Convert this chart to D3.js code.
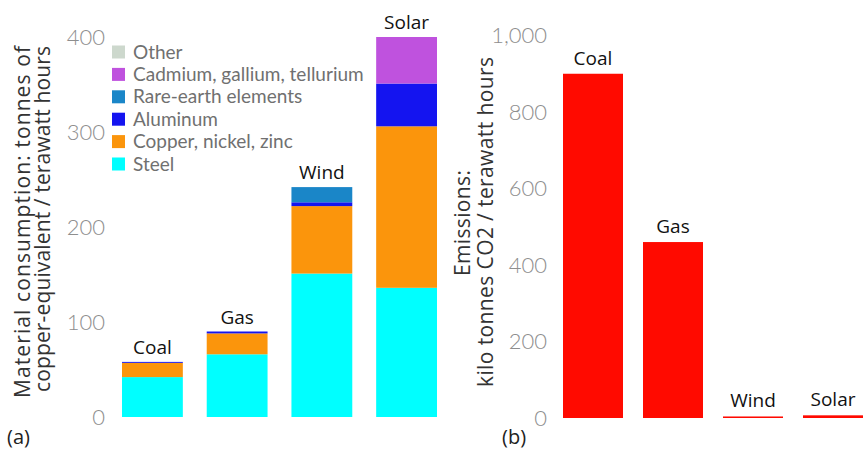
<!DOCTYPE html>
<html>
<head>
<meta charset="utf-8">
<script src="https://cdn.jsdelivr.net/npm/d3@7"></script>
<style>
  body { margin: 0; background: #fff; }
  svg { display: block; }
  .tick-label { font-family: Lato, sans-serif; font-weight: 300; font-size: 22px; fill: #8e8e8e; }
  .axis-title { font-family: "Open Sans", sans-serif; font-size: 21px; fill: #333; }
  .bar-label { font-family: "Open Sans", sans-serif; font-size: 19px; fill: #111; }
  .legend-text { font-family: Lato, sans-serif; font-size: 19px; fill: #707070; }
  .panel-label { font-family: "Open Sans", sans-serif; font-size: 20px; fill: #222; }
</style>
</head>
<body>
<div id="chart"></div>
<script>
// categories shared by both panels
var categories = ["Coal", "Gas", "Wind", "Solar"];

// (a) material consumption, tonnes copper-eq / TWh, per material
var steel     = [42, 66, 151, 136];
var copper    = [15, 22, 71, 170];
var aluminum  = [1, 2, 4, 45];
var rareEarth = [0, 0, 16, 0];
var cadmium   = [0, 0, 0, 49];
var other     = [0, 0, 0, 0];

var materialNames = ["Steel", "Copper, nickel, zinc", "Aluminum", "Rare-earth elements", "Cadmium, gallium, tellurium", "Other"];
var materialColors = ["#00ffff", "#fb950c", "#1414f0", "#1a86c8", "#bf52de", "#cdd8cd"];
var materialTicks = [0, 100, 200, 300, 400];

// (b) emissions, kilo tonnes CO2 / TWh
var emissions = [900, 460, 4, 7];
var emissionTicks = [0, 200, 400, 600, 800, 1000];

var width = 863, height = 454;

var svg = d3.select("#chart").append("svg")
	.attr("width", width)
	.attr("height", height);

// ---------- panel (a) ----------
var xA = d3.scaleBand().domain(categories).range([122, 437]).paddingInner(0.282);
var yA = d3.scaleLinear().domain([0, 400]).range([417, 37]);

var series = [steel, copper, aluminum, rareEarth, cadmium, other];
var rows = categories.map(function(c, i) {
	var r = { cat: c };
	materialNames.forEach(function(m, j) { r[m] = series[j][i]; });
	return r;
});
var stacked = d3.stack().keys(materialNames)(rows);

var gA = svg.append("g");

gA.selectAll(".layer")
	.data(stacked)
	.enter().append("g")
	.attr("fill", function(d, i) { return materialColors[i]; })
	.selectAll("rect")
	.data(function(d) { return d; })
	.enter().append("rect")
	.attr("x", function(d) { return xA(d.data.cat); })
	.attr("width", xA.bandwidth())
	.attr("y", function(d) { return yA(d[1]); })
	.attr("height", function(d) { return yA(d[0]) - yA(d[1]); });

// labels on top of each stack
gA.selectAll(".bar-label")
	.data(rows)
	.enter().append("text")
	.attr("class", "bar-label")
	.attr("text-anchor", "middle")
	.attr("x", function(d) { return xA(d.cat) + xA.bandwidth() / 2; })
	.attr("y", function(d) {
		var total = d3.sum(materialNames, function(m) { return d[m]; });
		return yA(total) - 8;
	})
	.text(function(d) { return d.cat; });

// y axis (labels only)
var axisA = d3.axisLeft(yA).tickValues(materialTicks).tickSize(0).tickPadding(0);
gA.append("g")
	.attr("transform", "translate(105,0)")
	.call(axisA)
	.call(function(g) {
		g.select(".domain").remove();
		g.selectAll("text").attr("class", "tick-label").attr("fill", null).attr("font-size", null).attr("font-family", null);
	});

gA.append("text")
	.attr("class", "axis-title")
	.attr("text-anchor", "middle")
	.attr("textLength", 352)
	.attr("transform", "translate(30,222) rotate(-90)")
	.text("Material consumption:  tonnes of");
gA.append("text")
	.attr("class", "axis-title")
	.attr("text-anchor", "middle")
	.attr("textLength", 346)
	.attr("transform", "translate(50,219) rotate(-90)")
	.text("copper-equivalent / terawatt hours");

// legend (top row = last layer)
var legendItems = materialNames.slice().reverse();
var legendCols = materialColors.slice().reverse();
var legend = gA.append("g").attr("transform", "translate(112,52)");
legend.selectAll("rect")
	.data(legendItems)
	.enter().append("rect")
	.attr("x", 0)
	.attr("y", function(d, i) { return i * 22.4 - 6.5; })
	.attr("width", 13)
	.attr("height", 13)
	.attr("fill", function(d, i) { return legendCols[i]; });
legend.selectAll("text")
	.data(legendItems)
	.enter().append("text")
	.attr("class", "legend-text")
	.attr("x", 21)
	.attr("y", function(d, i) { return i * 22.4; })
	.attr("dy", "0.35em")
	.text(function(d) { return d; });

gA.append("text").attr("class", "panel-label").attr("x", 7).attr("y", 444).text("(a)");

// ---------- panel (b) ----------
var xB = d3.scaleBand().domain(categories).range([563, 863]).paddingInner(0.25);
var yB = d3.scaleLinear().domain([0, 1000]).range([418, 35.5]);

var gB = svg.append("g");

gB.selectAll("rect")
	.data(emissions)
	.enter().append("rect")
	.attr("fill", "#ff0a00")
	.attr("x", function(d, i) { return xB(categories[i]); })
	.attr("width", xB.bandwidth())
	.attr("y", function(d) { return yB(d); })
	.attr("height", function(d) { return yB(0) - yB(d); });

gB.selectAll(".bar-label")
	.data(emissions)
	.enter().append("text")
	.attr("class", "bar-label")
	.attr("text-anchor", "middle")
	.attr("x", function(d, i) { return xB(categories[i]) + xB.bandwidth() / 2; })
	.attr("y", function(d) { return yB(d) - 9; })
	.text(function(d, i) { return categories[i]; });

var axisB = d3.axisLeft(yB).tickValues(emissionTicks).tickSize(0).tickPadding(0).tickFormat(d3.format(","));
gB.append("g")
	.attr("transform", "translate(547,0)")
	.call(axisB)
	.call(function(g) {
		g.select(".domain").remove();
		g.selectAll("text").attr("class", "tick-label").attr("fill", null).attr("font-size", null).attr("font-family", null);
	});

gB.append("text")
	.attr("class", "axis-title")
	.attr("text-anchor", "middle")
	.attr("textLength", 106)
	.attr("transform", "translate(470,223) rotate(-90)")
	.text("Emissions:");
gB.append("text")
	.attr("class", "axis-title")
	.attr("text-anchor", "middle")
	.attr("textLength", 330)
	.attr("transform", "translate(493,222) rotate(-90)")
	.text("kilo tonnes CO2 / terawatt hours");

gB.append("text").attr("class", "panel-label").attr("x", 502).attr("y", 444).text("(b)");
</script>
</body>
</html>
